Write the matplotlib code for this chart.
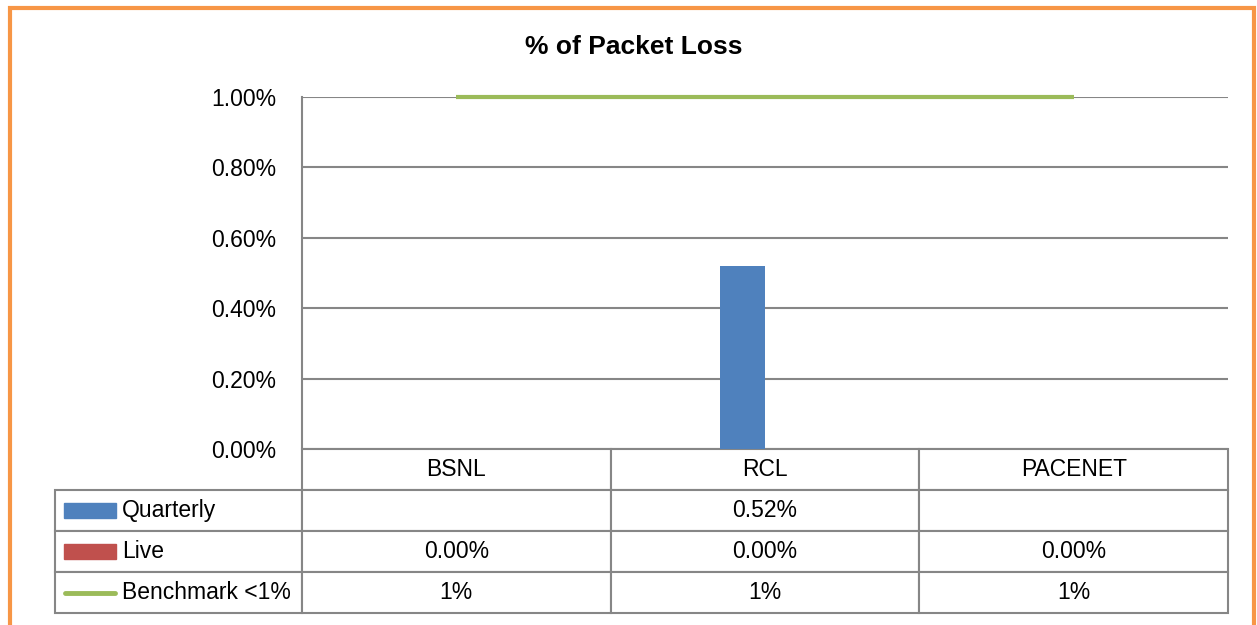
import matplotlib
matplotlib.use("Agg")
import matplotlib.pyplot as plt
from matplotlib.patches import Rectangle
from matplotlib.lines import Line2D
from matplotlib.ticker import PercentFormatter, MultipleLocator
import numpy as np

# ================= DATA =================
categories = ["BSNL", "RCL", "PACENET"]
quarterly = [None, 0.0052, None]      # packet loss (fraction)
live = [0.0, 0.0, 0.0]
benchmark = [0.01, 0.01, 0.01]
series_names = ["Quarterly", "Live", "Benchmark <1%"]

# ================= STYLE =================
plt.rcParams["font.family"] = ["Liberation Sans", "DejaVu Sans"]
BLUE = "#4F81BD"
RED = "#C0504D"
GREEN = "#9BBB59"
GRID = "#868686"
ORANGE = "#F79646"

W, H = 1257, 625
fig = plt.figure(figsize=(W / 100, H / 100), dpi=100)

# plot area in pixels: x 302..1228, y 97..449
px0, px1, py0, py1 = 302, 1228, 97, 449
ax = fig.add_axes([px0 / W, 1 - py1 / H, (px1 - px0) / W, (py1 - py0) / H])

x = np.arange(len(categories))
bw = 0.146
q_vals = [v if v is not None else 0 for v in quarterly]
ax.bar(x - bw / 2, q_vals, bw, color=BLUE, zorder=3)
ax.bar(x + bw / 2, live, bw, color=RED, zorder=3)
ax.plot(x, benchmark, color=GREEN, lw=3, zorder=4, solid_capstyle="butt",
        clip_on=False)

ax.set_xlim(-0.5, len(categories) - 0.5)
ax.set_ylim(0, 0.01)
ax.yaxis.set_major_locator(MultipleLocator(0.002))
ax.yaxis.set_major_formatter(PercentFormatter(xmax=1, decimals=2))
ax.tick_params(axis="y", length=0, pad=18.5, labelsize=16.5)
ax.set_xticks([])
ax.grid(axis="y", color=GRID, lw=1.5, zorder=0)
for s in ["top", "right", "bottom"]:
    ax.spines[s].set_visible(False)
ax.spines["left"].set_color(GRID)
ax.spines["left"].set_linewidth(1.5)

fig.text(634 / W, 1 - 47 / H, "% of Packet Loss", ha="center", va="center",
         fontsize=19, fontweight="bold",
         family=["Liberation Sans Narrow", "Liberation Sans", "DejaVu Sans"])

# ================= DATA TABLE =================
def fmt(v, d=2):
    return "" if v is None else f"{v * 100:.{d}f}%"

rows = [
    [fmt(v) for v in quarterly],
    [fmt(v) for v in live],
    [fmt(v, 0) for v in benchmark],
]
cell_text = [[name] + r for name, r in zip(series_names, rows)]

plot_w = px1 - px0
plot_h = py1 - py0
lab_w = (px0 - 55) / plot_w
tab_h = (613 - 449) / plot_h
tbl = ax.table(cellText=cell_text, colLabels=[""] + categories,
               colWidths=[lab_w] + [1 / 3] * 3, cellLoc="center",
               bbox=[-lab_w, -tab_h, 1 + lab_w, tab_h])
tbl.auto_set_font_size(False)
tbl.set_fontsize(16.5)
for (r, c), cell in tbl.get_celld().items():
    cell.set_edgecolor(GRID)
    cell.set_linewidth(1.5)
    if c == 0:
        if r == 0:
            cell.visible_edges = "open"
        else:
            cell.get_text().set_horizontalalignment("left")
            cell.PAD = 67 / (px0 - 55)

# legend keys inside row label cells
row_h = tab_h / 4
key_x0 = (64 - px0) / plot_w
key_w = 52 / plot_w
key_h = 15 / plot_h
for i, col in enumerate([BLUE, RED]):
    yc = -row_h * (1.5 + i)
    ax.add_patch(Rectangle((key_x0, yc - key_h / 2), key_w, key_h,
                           transform=ax.transAxes, color=col, clip_on=False,
                           zorder=5))
yc = -row_h * 3.5
ax.add_line(Line2D([(64.5 - px0) / plot_w, (114.5 - px0) / plot_w], [yc, yc],
                   transform=ax.transAxes, color=GREEN, lw=3.5,
                   solid_capstyle="round", clip_on=False, zorder=5))

# orange chart border
fig.patches.append(Rectangle((10 / W, -0.05), (1254 - 10) / W, 1 - 8 / H + 0.05,
                             transform=fig.transFigure, fill=False,
                             edgecolor=ORANGE, lw=3))

fig.savefig("out.png", dpi=100)
